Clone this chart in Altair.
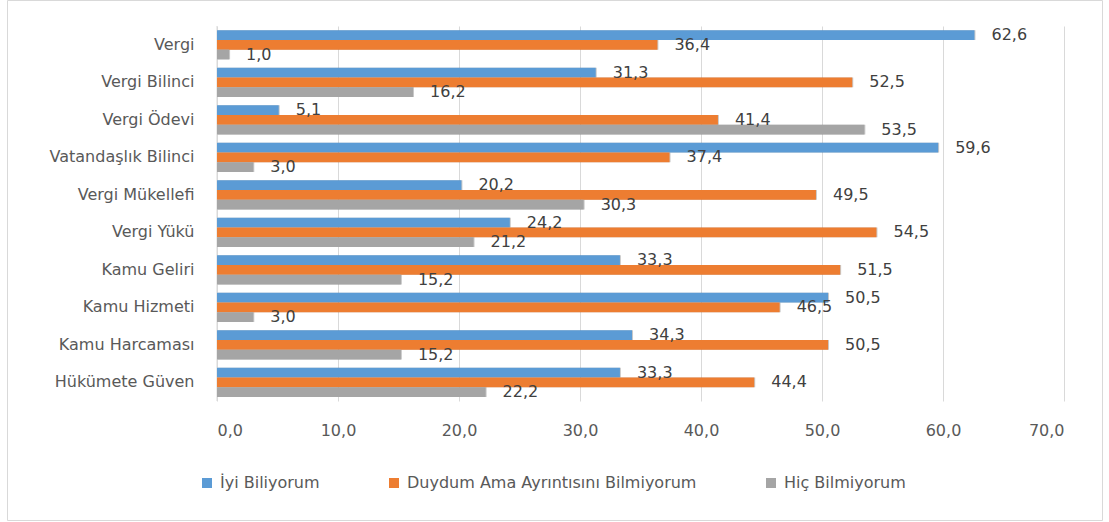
import altair as alt
import pandas as pd

# Survey topics, top to bottom
topics = [
    "Vergi", "Vergi Bilinci", "Vergi Ödevi", "Vatandaşlık Bilinci",
    "Vergi Mükellefi", "Vergi Yükü", "Kamu Geliri", "Kamu Hizmeti",
    "Kamu Harcaması", "Hükümete Güven",
]
series = ["İyi Biliyorum", "Duydum Ama Ayrıntısını Bilmiyorum", "Hiç Bilmiyorum"]
colors = ["#5B9BD5", "#ED7D31", "#A5A5A5"]

iyi = [62.6, 31.3, 5.1, 59.6, 20.2, 24.2, 33.3, 50.5, 34.3, 33.3]
duydum = [36.4, 52.5, 41.4, 37.4, 49.5, 54.5, 51.5, 46.5, 50.5, 44.4]
hic = [1.0, 16.2, 53.5, 3.0, 30.3, 21.2, 15.2, 3.0, 15.2, 22.2]

rows = []
for vals, name in zip([iyi, duydum, hic], series):
    for t, v in zip(topics, vals):
        rows.append({"konu": t, "grup": name, "deger": v})
df = pd.DataFrame(rows)

FONT = "DejaVu Sans"
TXT = "#595959"
W, H = 847, 375
LEFT, TOP = 217, 26

y_enc = alt.Y("konu:N", sort=topics,
              scale=alt.Scale(paddingInner=0.22, paddingOuter=0.11),
              axis=alt.Axis(title=None, labelFont=FONT, labelFontSize=16,
                            labelColor=TXT, labelPadding=23, ticks=False,
                            domain=False, grid=False, labelLimit=0))
x_enc = alt.X("deger:Q", scale=alt.Scale(domain=[0, 70], nice=False),
              axis=alt.Axis(title=None, values=[0, 10, 20, 30, 40, 50, 60, 70],
                            format=".1f", labelFont=FONT, labelFontSize=16,
                            labelColor=TXT, labelPadding=21, ticks=False,
                            domain=False, grid=True, gridColor="#d9d9d9"))
yoff = alt.YOffset("grup:N", sort=series, scale=alt.Scale(paddingInner=0, paddingOuter=0))
col = alt.Color("grup:N", sort=series,
                scale=alt.Scale(domain=series, range=colors),
                legend=alt.Legend(title=None, orient="none", direction="horizontal",
                                  legendX=-18, legendY=449, symbolType="square",
                                  symbolSize=100, symbolStrokeWidth=0,
                                  labelFont=FONT, labelFontSize=16, labelLimit=0,
                                  labelColor=TXT, columnPadding=66,
                                  labelOffset=5, padding=0))

base = alt.Chart(df)

# Soft drop shadow under each bar
shadow_outer = base.mark_bar(color="#000000", opacity=0.08,
                             xOffset=1, x2Offset=4, yOffset=2, y2Offset=4).encode(
    y=alt.Y("konu:N", sort=topics), x="deger:Q", yOffset=yoff)
shadow_inner = base.mark_bar(color="#000000", opacity=0.14,
                             xOffset=1, x2Offset=2, yOffset=1, y2Offset=2).encode(
    y=alt.Y("konu:N", sort=topics), x="deger:Q", yOffset=yoff)

bars = base.mark_bar().encode(y=y_enc, x=x_enc, yOffset=yoff, color=col)

labels = base.mark_text(align="left", baseline="middle", dx=17,
                        font=FONT, fontSize=16, color="#404040").encode(
    y=alt.Y("konu:N", sort=topics), x="deger:Q", yOffset=yoff,
    text=alt.Text("deger:Q", format=".1f"))

# Outer frame around the whole figure
frame_df = pd.DataFrame({"k": [0]})
frame = alt.Chart(frame_df).mark_rect(fill=None, stroke="#d9d9d9", strokeWidth=1).encode(
    x=alt.value(7 - LEFT + 0.5), x2=alt.value(1102 - LEFT + 0.5),
    y=alt.value(-TOP + 0.5), y2=alt.value(520 - TOP + 0.5))

# Left axis line at zero
zero_line = alt.Chart(frame_df).mark_rule(color="#d9d9d9").encode(
    x=alt.value(0), y=alt.value(0), y2=alt.value(H))

chart = alt.layer(frame, zero_line, shadow_outer, shadow_inner, bars, labels).properties(
    width=W, height=H,
    autosize=alt.AutoSizeParams(type="none"),
    padding={"left": LEFT, "top": TOP, "right": 1109 - LEFT - W, "bottom": 522 - TOP - H},
).configure(
    locale={"number": {"decimal": ",", "thousands": ".", "grouping": [3],
                       "currency": ["", " TL"]}}
).configure_view(stroke=None)

chart.save("out.html", embed_options={"renderer": "svg", "actions": False})
